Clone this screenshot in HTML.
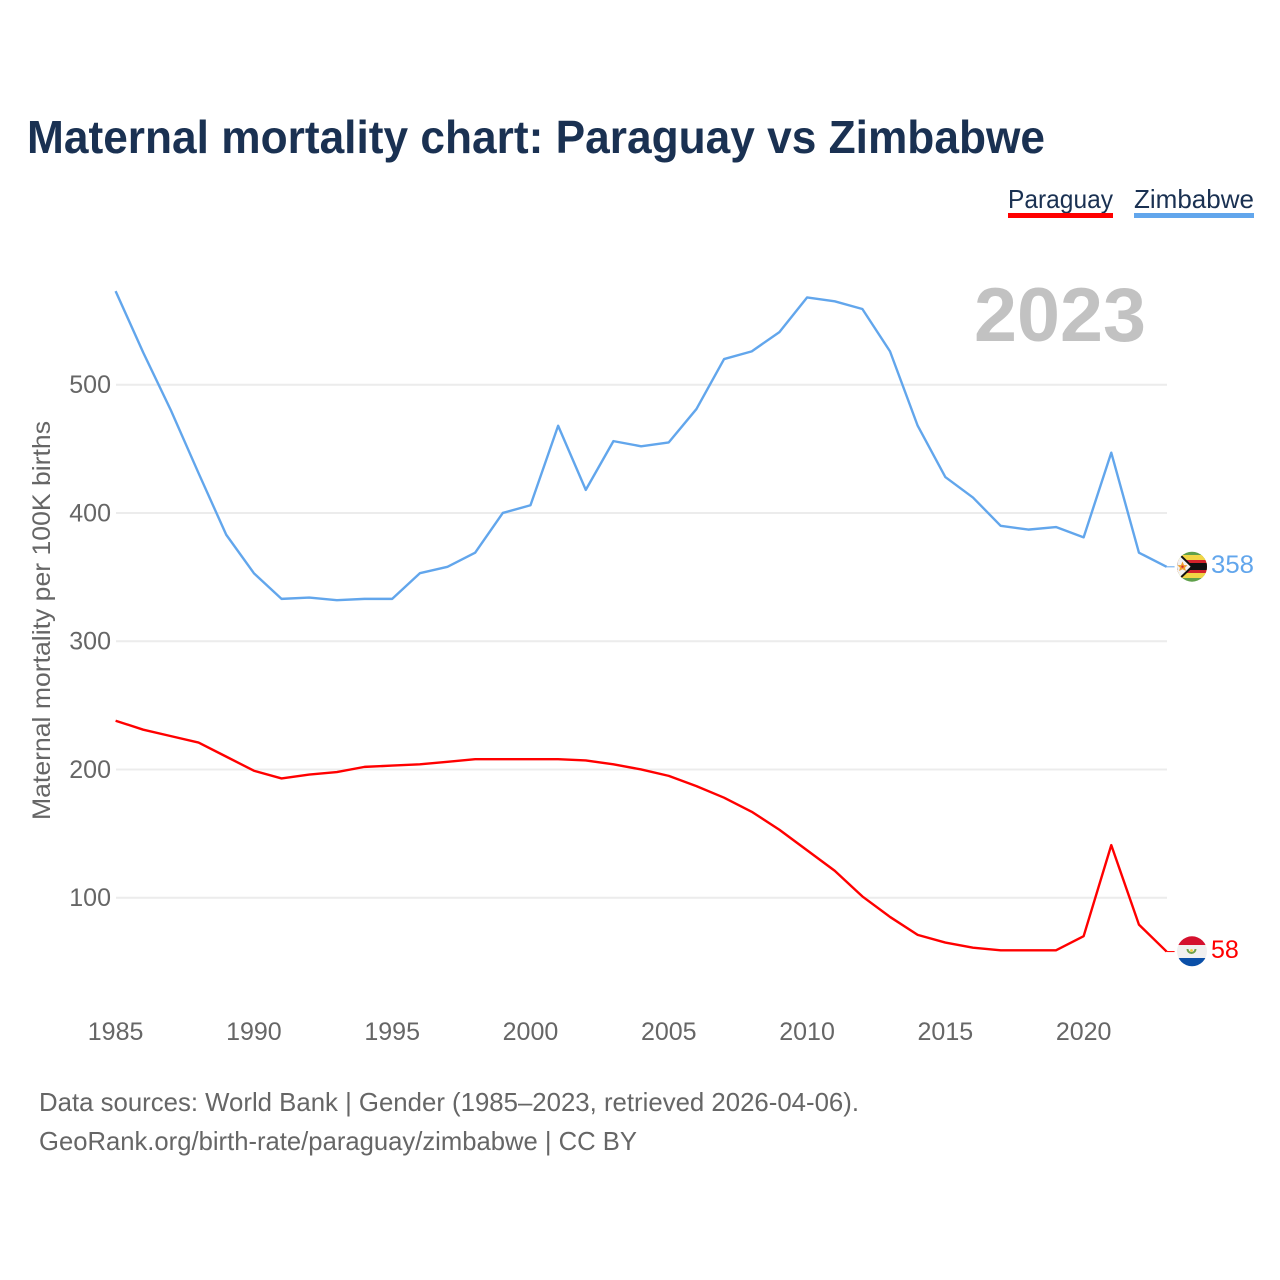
<!DOCTYPE html>
<html lang="en">
<head>
<meta charset="utf-8">
<title>Maternal mortality chart: Paraguay vs Zimbabwe</title>
<style>
html,body{margin:0;padding:0;background:#fff;}
svg{display:block;font-family:"Liberation Sans",sans-serif;}
</style>
</head>
<body>
<svg id="chart" width="1280" height="1280" viewBox="0 0 1280 1280" xmlns="http://www.w3.org/2000/svg">
  <defs>
    <clipPath id="zw-clip"><circle cx="1192" cy="566.7" r="15"/></clipPath>
    <clipPath id="py-clip"><circle cx="1192" cy="951.3" r="15"/></clipPath>
  </defs>
  <rect width="1280" height="1280" fill="#fff"/>
  <text x="27" y="153" font-size="46" font-weight="bold" fill="#1a3152" textLength="1018" lengthAdjust="spacingAndGlyphs">Maternal mortality chart: Paraguay vs Zimbabwe</text>

  <g>
    <g>
      <text x="1008" y="208" font-size="26" fill="#1a3152" textLength="105" lengthAdjust="spacingAndGlyphs">Paraguay</text>
      <rect x="1008" y="213" width="105" height="5" fill="#ff0000"/>
    </g>
    <g>
      <text x="1134" y="208" font-size="26" fill="#1a3152" textLength="120" lengthAdjust="spacingAndGlyphs">Zimbabwe</text>
      <rect x="1134" y="213" width="120" height="5" fill="#62a6ec"/>
    </g>
  </g>

  <g id="grid"></g>
  <g id="y-ticks"></g>
  <g id="x-ticks"></g>

  <text transform="translate(50,820) rotate(-90)" font-size="25" fill="#666" textLength="399" lengthAdjust="spacingAndGlyphs">Maternal mortality per 100K births</text>

  <text x="1146" y="341" text-anchor="end" font-size="76" font-weight="bold" fill="#c2c2c2" textLength="172" lengthAdjust="spacingAndGlyphs">2023</text>

  <g id="series"></g>

  <g clip-path="url(#zw-clip)">
    <rect x="1177" y="551" width="30" height="31" fill="#5fa04a"/>
    <rect x="1177" y="555" width="30" height="23" fill="#f2d545"/>
    <rect x="1177" y="560" width="30" height="13" fill="#d3232b"/>
    <rect x="1177" y="563" width="30" height="7" fill="#111"/>
    <polygon points="1172,547 1192,566.7 1172,586" fill="#f2f2f2" stroke="#111" stroke-width="2"/>
    <polygon points="1182.5,561.5 1184,565 1187.5,565.3 1185,567.7 1186,571 1182.5,569.2 1179,571 1180,567.7 1177.5,565.3 1181,565" fill="#f0a030"/>
    <circle cx="1182.5" cy="566.7" r="1.2" fill="#d3232b"/>
  </g>
  <g clip-path="url(#py-clip)">
    <rect x="1177" y="936" width="30" height="9" fill="#d5112e"/>
    <rect x="1177" y="945" width="30" height="13" fill="#f0f0f0"/>
    <rect x="1177" y="958" width="30" height="9" fill="#0a4fa8"/>
    <path d="M1187.5,949 A4 4 0 1 0 1195.5,949" fill="none" stroke="#6fa04a" stroke-width="2"/>
    <circle cx="1191.5" cy="950.5" r="1.4" fill="#f0d040"/>
  </g>
  <text id="end-zw" x="1211" y="573" font-size="25" fill="#62a6ec" textLength="43" lengthAdjust="spacingAndGlyphs"></text>
  <text id="end-py" x="1211" y="958" font-size="25" fill="#ff0000"></text>

  <text x="39" y="1111" font-size="26" fill="#666" textLength="820" lengthAdjust="spacingAndGlyphs">Data sources: World Bank | Gender (1985–2023, retrieved 2026-04-06).</text>
  <text x="39" y="1150" font-size="26" fill="#666" textLength="598" lengthAdjust="spacingAndGlyphs">GeoRank.org/birth-rate/paraguay/zimbabwe | CC BY</text>
</svg>
<script>
const years = [1985,1986,1987,1988,1989,1990,1991,1992,1993,1994,1995,1996,1997,1998,1999,2000,2001,2002,2003,2004,2005,2006,2007,2008,2009,2010,2011,2012,2013,2014,2015,2016,2017,2018,2019,2020,2021,2022,2023];
const paraguay = [238,231,226,221,210,199,193,196,198,202,203,204,206,208,208,208,208,207,204,200,195,187,178,167,153,137,121,101,85,71,65,61,59,59,59,70,141,79,58];
const zimbabwe = [573,525,480,431,383,353,333,334,332,333,333,353,358,369,400,406,468,418,456,452,455,481,520,526,541,568,565,559,526,468,428,412,390,387,389,381,447,369,358];
const yTicks = [100,200,300,400,500];
const xTicks = [1985,1990,1995,2000,2005,2010,2015,2020];

const NS = 'http://www.w3.org/2000/svg';
function xScale(year) { return 115.6 + (year - 1985) * (1166.6 - 115.6) / 38; }
function yScale(value) { return 897.7 - (value - 100) * 1.2825; }

const grid = document.getElementById('grid');
const yG = document.getElementById('y-ticks');
const xG = document.getElementById('x-ticks');
const seriesG = document.getElementById('series');

yTicks.forEach(function (t) {
  const l = document.createElementNS(NS, 'line');
  
  
  l.setAttribute('x1', 116);
  l.setAttribute('x2', 1167);
  l.setAttribute('y1', yScale(t));
  l.setAttribute('y2', yScale(t));
  l.setAttribute('stroke', '#ececec');
  l.setAttribute('stroke-width', 2);
  grid.appendChild(l);
  const s = document.createElementNS(NS, 'text');
  
  
  s.setAttribute('x', 111);
  s.setAttribute('y', yScale(t) + 8.5);
  s.setAttribute('text-anchor', 'end');
  s.setAttribute('font-size', 25);
  s.setAttribute('fill', '#666');
  s.textContent = t;
  yG.appendChild(s);
});

xTicks.forEach(function (t) {
  const s = document.createElementNS(NS, 'text');
  
  
  s.setAttribute('x', xScale(t));
  s.setAttribute('y', 1040);
  s.setAttribute('text-anchor', 'middle');
  s.setAttribute('font-size', 25);
  s.setAttribute('fill', '#666');
  s.textContent = t;
  xG.appendChild(s);
});

function drawSeries(values, color, name) {
  const p = document.createElementNS(NS, 'polyline');
  
  
  p.setAttribute('fill', 'none');
  p.setAttribute('stroke', color);
  p.setAttribute('stroke-width', 2.4);
  p.setAttribute('stroke-linejoin', 'round');
  const pts = values.map(function (v, i) { return xScale(years[i]).toFixed(2) + ',' + yScale(v).toFixed(2); });
  p.setAttribute('points', pts.join(' '));
  seriesG.appendChild(p);
  const last = values[values.length - 1];
  const leader = document.createElementNS(NS, 'line');
  
  
  leader.setAttribute('x1', xScale(years[years.length - 1]));
  leader.setAttribute('x2', xScale(years[years.length - 1]) + 8);
  leader.setAttribute('y1', yScale(last));
  leader.setAttribute('y2', yScale(last));
  leader.setAttribute('stroke', color);
  leader.setAttribute('stroke-width', 1);
  seriesG.appendChild(leader);
}
drawSeries(zimbabwe, '#62a6ec', 'line-zimbabwe');
drawSeries(paraguay, '#ff0000', 'line-paraguay');

document.getElementById('end-zw').textContent = zimbabwe[zimbabwe.length - 1];
document.getElementById('end-py').textContent = paraguay[paraguay.length - 1];
</script>
</body>
</html>
